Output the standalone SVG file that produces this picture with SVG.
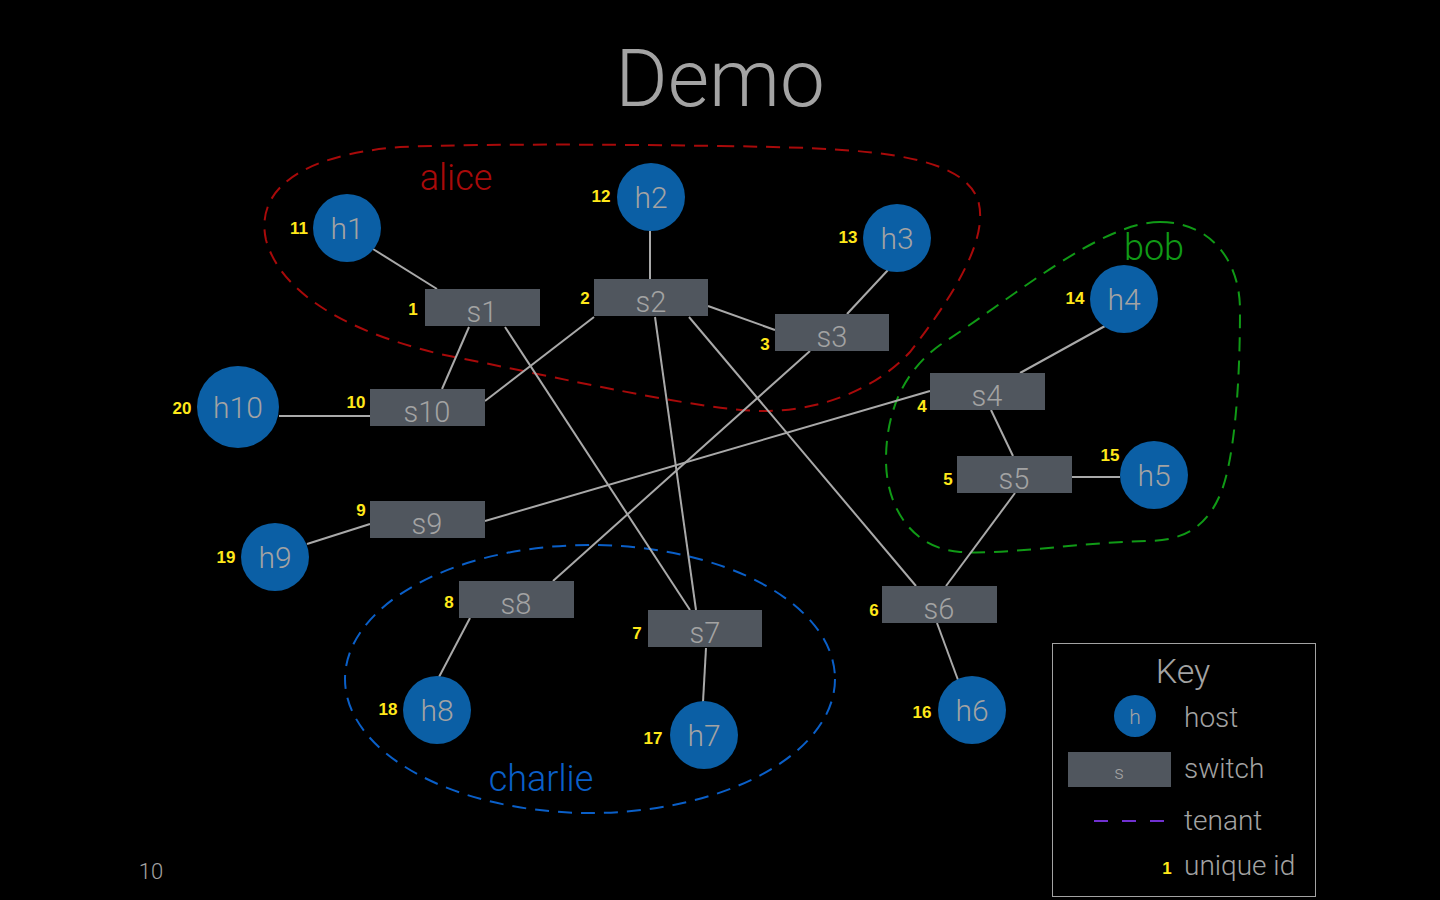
<svg xmlns="http://www.w3.org/2000/svg" width="1440" height="900" viewBox="0 0 1440 900">
<style>
.bg{fill:#000}
.edge{stroke:#a9a9a9;stroke-width:2;fill:none}
.host{fill:#0b5fa5}
.sw{fill:#50565e}
.lbl{font-family:Roboto,"Open Sans","Liberation Sans",sans-serif;font-weight:300;fill:#a3a3a3;text-anchor:middle}
.ht{font-size:30px}
.st{font-size:29px}
.id{font-family:"Liberation Sans",Arial,sans-serif;font-weight:bold;font-size:17px;fill:#ffe81a;text-anchor:middle}
.ten{font-family:Roboto,"Open Sans","Liberation Sans",sans-serif;font-weight:300;font-size:36px;text-anchor:middle}
.key{font-family:Roboto,"Open Sans","Liberation Sans",sans-serif;font-weight:300;fill:#a3a3a3;font-size:28px}
</style>
<rect class="bg" x="0" y="0" width="1440" height="900"/>
<text x="720" y="106" class="lbl" font-size="80">Demo</text>

<g id="tenants">
<path id="alice-area" d="M 720 146 C 850 148 960 150 978 200 C 990 240 950 300 910 352 C 870 395 810 412 760 411 C 700 410 560 378 440 354 C 340 330 280 290 266 240 C 255 190 300 155 400 147 C 500 143 650 145 720 146 Z" fill="none" stroke="#a80a0a" stroke-width="2" stroke-dasharray="14 9"/>
<path id="bob-area" d="M 1160 222 C 1210 222 1240 260 1240 310 C 1240 380 1235 460 1220 495 C 1205 530 1180 540 1150 541 C 1080 542 1010 555 960 552 C 910 548 886 505 886 460 C 886 410 905 370 940 345 C 1010 300 1100 222 1160 222 Z" fill="none" stroke="#109a16" stroke-width="2" stroke-dasharray="14 9"/>
<ellipse id="charlie-area" cx="590" cy="679" rx="245" ry="134" fill="none" stroke="#0a5fc8" stroke-width="2" stroke-dasharray="14 9"/>
<text x="456" y="190" class="ten" fill="#a80a0a">alice</text>
<text x="1154" y="260" class="ten" fill="#109a16">bob</text>
<text x="541" y="791" class="ten" fill="#0a5fc8">charlie</text>
</g>

<g id="connectors">
<line class="edge" x1="373" y1="249" x2="437" y2="289"/>
<line class="edge" x1="650" y1="231" x2="650" y2="279"/>
<line class="edge" x1="888" y1="270" x2="847" y2="314"/>
<line class="edge" x1="1105" y1="326" x2="1020" y2="373"/>
<line class="edge" x1="1072" y1="477" x2="1120" y2="477"/>
<line class="edge" x1="958" y1="680" x2="937" y2="623"/>
<line class="edge" x1="703" y1="702" x2="706" y2="648"/>
<line class="edge" x1="439" y1="677" x2="470" y2="618"/>
<line class="edge" x1="307" y1="544" x2="370" y2="524"/>
<line class="edge" x1="279" y1="416" x2="370" y2="416"/>
<line class="edge" x1="469" y1="327" x2="442" y2="389"/>
<line class="edge" x1="505" y1="327" x2="690" y2="610"/>
<line class="edge" x1="594" y1="317" x2="485" y2="401"/>
<line class="edge" x1="708" y1="306" x2="775" y2="330"/>
<line class="edge" x1="655" y1="317" x2="696" y2="610"/>
<line class="edge" x1="689" y1="317" x2="916" y2="586"/>
<line class="edge" x1="810" y1="351" x2="553" y2="581"/>
<line class="edge" x1="930" y1="391" x2="485" y2="521"/>
<line class="edge" x1="991" y1="410" x2="1013" y2="456"/>
<line class="edge" x1="1015" y1="493" x2="946" y2="586"/>
</g>

<g id="s1"><rect class="sw" x="425" y="289" width="115" height="37"/><text class="lbl st" x="482" y="322">s1</text><text class="id" x="413" y="315">1</text></g>
<g id="s2"><rect class="sw" x="594" y="279" width="114" height="37"/><text class="lbl st" x="651" y="312">s2</text><text class="id" x="585" y="304">2</text></g>
<g id="s3"><rect class="sw" x="775" y="314" width="114" height="37"/><text class="lbl st" x="832" y="347">s3</text><text class="id" x="765" y="350">3</text></g>
<g id="s4"><rect class="sw" x="930" y="373" width="115" height="37"/><text class="lbl st" x="987" y="406">s4</text><text class="id" x="922" y="412">4</text></g>
<g id="s5"><rect class="sw" x="957" y="456" width="115" height="37"/><text class="lbl st" x="1014" y="489">s5</text><text class="id" x="948" y="485">5</text></g>
<g id="s6"><rect class="sw" x="882" y="586" width="115" height="37"/><text class="lbl st" x="939" y="619">s6</text><text class="id" x="874" y="616">6</text></g>
<g id="s7"><rect class="sw" x="648" y="610" width="114" height="37"/><text class="lbl st" x="705" y="643">s7</text><text class="id" x="637" y="639">7</text></g>
<g id="s8"><rect class="sw" x="459" y="581" width="115" height="37"/><text class="lbl st" x="516" y="614">s8</text><text class="id" x="449" y="608">8</text></g>
<g id="s9"><rect class="sw" x="370" y="501" width="115" height="37"/><text class="lbl st" x="427" y="534">s9</text><text class="id" x="361" y="516">9</text></g>
<g id="s10"><rect class="sw" x="370" y="389" width="115" height="37"/><text class="lbl st" x="427" y="422">s10</text><text class="id" x="356" y="408">10</text></g>

<g id="h1"><circle class="host" cx="347" cy="228" r="34"/><text class="lbl ht" x="347" y="239">h1</text><text class="id" x="299" y="234">11</text></g>
<g id="h2"><circle class="host" cx="651" cy="197" r="34"/><text class="lbl ht" x="651" y="208">h2</text><text class="id" x="601" y="202">12</text></g>
<g id="h3"><circle class="host" cx="897" cy="238" r="34"/><text class="lbl ht" x="897" y="249">h3</text><text class="id" x="848" y="243">13</text></g>
<g id="h4"><circle class="host" cx="1124" cy="299" r="34"/><text class="lbl ht" x="1124" y="310">h4</text><text class="id" x="1075" y="304">14</text></g>
<g id="h5"><circle class="host" cx="1154" cy="475" r="34"/><text class="lbl ht" x="1154" y="486">h5</text><text class="id" x="1110" y="461">15</text></g>
<g id="h6"><circle class="host" cx="972" cy="710" r="34"/><text class="lbl ht" x="972" y="721">h6</text><text class="id" x="922" y="718">16</text></g>
<g id="h7"><circle class="host" cx="704" cy="735" r="34"/><text class="lbl ht" x="704" y="746">h7</text><text class="id" x="653" y="744">17</text></g>
<g id="h8"><circle class="host" cx="437" cy="710" r="34"/><text class="lbl ht" x="437" y="721">h8</text><text class="id" x="388" y="715">18</text></g>
<g id="h9"><circle class="host" cx="275" cy="557" r="34"/><text class="lbl ht" x="275" y="568">h9</text><text class="id" x="226" y="563">19</text></g>
<g id="h10"><circle class="host" cx="238" cy="407" r="41"/><text class="lbl ht" x="238" y="418">h10</text><text class="id" x="182" y="414">20</text></g>

<g id="key">
<rect x="1052.5" y="643.5" width="263" height="253" fill="none" stroke="#a3a3a3" stroke-width="1"/>
<text class="lbl" x="1183" y="683" font-size="34">Key</text>
<circle class="host" cx="1135" cy="716" r="21"/>
<text class="lbl" x="1135" y="724" font-size="21">h</text>
<text class="key" x="1184" y="727">host</text>
<rect class="sw" x="1068" y="752" width="103" height="35"/>
<text class="lbl" x="1119" y="779" font-size="19">s</text>
<text class="key" x="1184" y="778">switch</text>
<line x1="1094" y1="821" x2="1168" y2="821" stroke="#7030d0" stroke-width="2" stroke-dasharray="14 14"/>
<text class="key" x="1184" y="830">tenant</text>
<text class="id" x="1167" y="874" font-size="16">1</text>
<text class="key" x="1184" y="875">unique id</text>
</g>
<text class="lbl" x="151" y="879" font-size="22">10</text>
</svg>
